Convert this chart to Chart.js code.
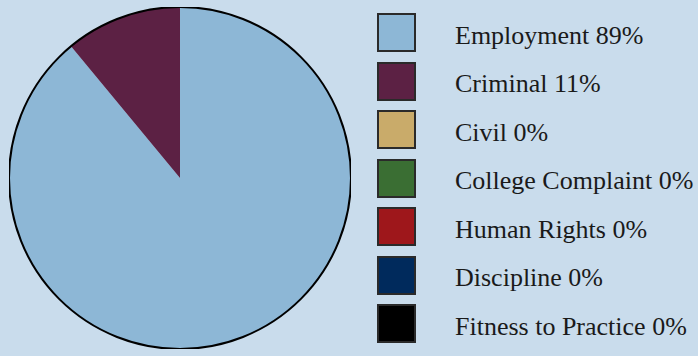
<!DOCTYPE html>
<html>
<head>
<meta charset="utf-8">
<script src="https://cdn.jsdelivr.net/npm/chart.js@4.4.1/dist/chart.umd.min.js"></script>
<style>
  html, body { margin: 0; padding: 0; background: #c9dcec; }
  #wrap { position: relative; width: 698px; height: 356px; overflow: hidden; }
  #pieBox { position: absolute; left: 9px; top: 7px; width: 342px; height: 342px; }
  #legend { position: absolute; left: 377px; top: 13px; margin: 0; padding: 0; list-style: none;
    font-family: "Liberation Serif", "DejaVu Serif", serif; font-size: 26px; color: #1a1a1a; }
  #legend li { display: flex; align-items: center; height: 39px; margin-bottom: 9.5px; white-space: nowrap; }
  #legend .sw { width: 39px; height: 39px; box-sizing: border-box; border: 2px solid #2a2a2a; margin-right: 39px; }
  #legend .tx { position: relative; top: 3px; }
</style>
</head>
<body>
<div id="wrap">
  <div id="pieBox"><canvas id="pie"></canvas></div>
  <ul id="legend"></ul>
</div>
<script>
const labels = ["Employment", "Criminal", "Civil", "College Complaint", "Human Rights", "Discipline", "Fitness to Practice"];
const shares = [89, 11, 0, 0, 0, 0, 0];
const colors = ["#8db7d6", "#5c2144", "#c9ab6a", "#3a6e33", "#9e171b", "#002a5c", "#000000"];

// outer ring only, no lines between slices
const outline = {
  id: "outline",
  afterDatasetsDraw(chart) {
    const arc = chart.getDatasetMeta(0).data[0];
    if (!arc) return;
    const ctx = chart.ctx;
    ctx.save();
    ctx.beginPath();
    ctx.arc(arc.x, arc.y, arc.outerRadius, 0, Math.PI * 2);
    ctx.lineWidth = 2;
    ctx.strokeStyle = "#000";
    ctx.stroke();
    ctx.restore();
  }
};

new Chart(document.getElementById("pie"), {
  type: "pie",
  data: {
    labels: labels,
    datasets: [{
      data: shares,
      backgroundColor: colors,
      borderWidth: 0
    }]
  },
  options: {
    responsive: true,
    maintainAspectRatio: false,
    animation: false,
    events: [],
    plugins: { legend: { display: false }, tooltip: { enabled: false } }
  },
  plugins: [outline]
});

const legend = document.getElementById("legend");
labels.forEach((name, i) => {
  const li = document.createElement("li");
  li.innerHTML = `<span class="sw" style="background:${colors[i]}"></span><span class="tx">${name} ${shares[i]}%</span>`;
  legend.appendChild(li);
});
</script>
</body>
</html>
